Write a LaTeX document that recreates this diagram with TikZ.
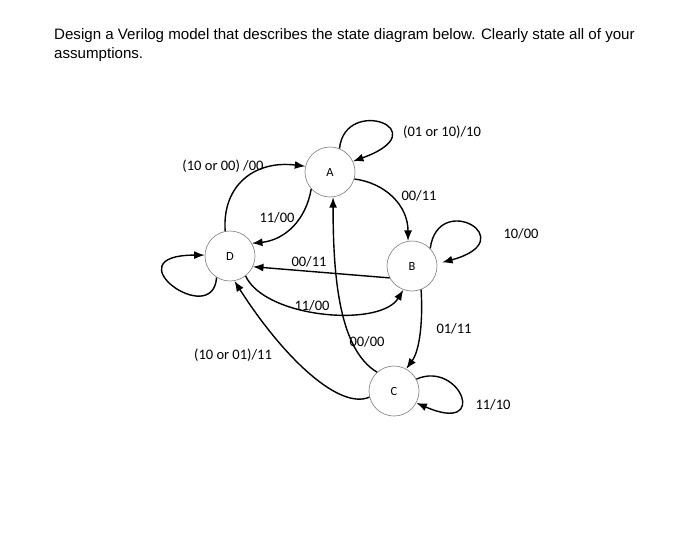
\documentclass[tikz,border=0pt]{standalone}
\usepackage{fontspec}
\setmainfont{Liberation Sans}
\newfontfamily\labfont{Carlito}
\usetikzlibrary{arrows.meta}
\begin{document}
\begin{tikzpicture}[x=1pt,y=-1pt,
  state/.style={circle,draw=black!45,line width=0.7pt,minimum size=50pt,inner sep=0pt,font=\labfont\fontsize{12.5}{12.5}\selectfont},
  edge/.style={line width=1.4pt,-{Latex[length=10.5pt,width=8pt]}},
  lab/.style={font=\labfont\fontsize{14.5}{15}\selectfont,inner sep=0pt},
  title/.style={anchor=base west,inner sep=0pt,font=\fontsize{15.1}{17}\selectfont}]
\useasboundingbox (0,0) rectangle (700,559);
\fill[white] (0,0) rectangle (700,559);
\node[title] (t1) at (54,40) {Design a Verilog model that describes the state diagram below. Clearly state all of your};
\node[title] (t2) at (54,59) {assumptions.};
\node[state] (A) at (330,172) {A};
\node[state] (B) at (412,266) {B};
\node[state] (C) at (394,391) {C};
\node[state] (D) at (230,256) {D};
\draw[edge] (A.68) .. controls (345,95) and (440,130) .. (A.25);
\draw[edge] (D.101) .. controls (222,185) and (255,160) .. (A.167);
\draw[edge] (A.222) .. controls (306,220) and (285,240) .. (D.30);
\draw[edge] (A.344) .. controls (385,183) and (408,205) .. (B.99);
\draw[edge,shorten >=5pt] (B.44) .. controls (438,190) and (525,240) .. (B.5);
\draw[edge] (B.208) -- (D.335);
\draw[edge] (D.308) .. controls (265,318) and (380,328) .. (B.250);
\draw[edge] (B.291) .. controls (423,320) and (420,350) .. (C.61);
\draw[edge] (C.28) .. controls (460,360) and (490,435) .. (C.332);
\draw[edge] (C.132) .. controls (340,350) and (333,280) .. (A.277);
\draw[edge] (C.194) .. controls (340,410) and (285,360) .. (D.280);
\draw[edge] (D.238) .. controls (213,330) and (110,255) .. (D.178);
\node[lab] (l1) at (442,132) {(01 or 10)/10};
\node[lab] (l2) at (223,166) {(10 or 00) /00};
\node[lab] (l3) at (419,196) {00/11};
\node[lab] (l4) at (521,234) {10/00};
\node[lab] (l5) at (277,218) {11/00};
\node[lab] (l6) at (309,262) {00/11};
\node[lab] (l7) at (312,306) {11/00};
\node[lab] (l8) at (454,329) {01/11};
\node[lab] (l9) at (367,342) {00/00};
\node[lab] (l10) at (233,355) {(10 or 01)/11};
\node[lab] (l11) at (493,405) {11/10};
\end{tikzpicture}
\end{document}
